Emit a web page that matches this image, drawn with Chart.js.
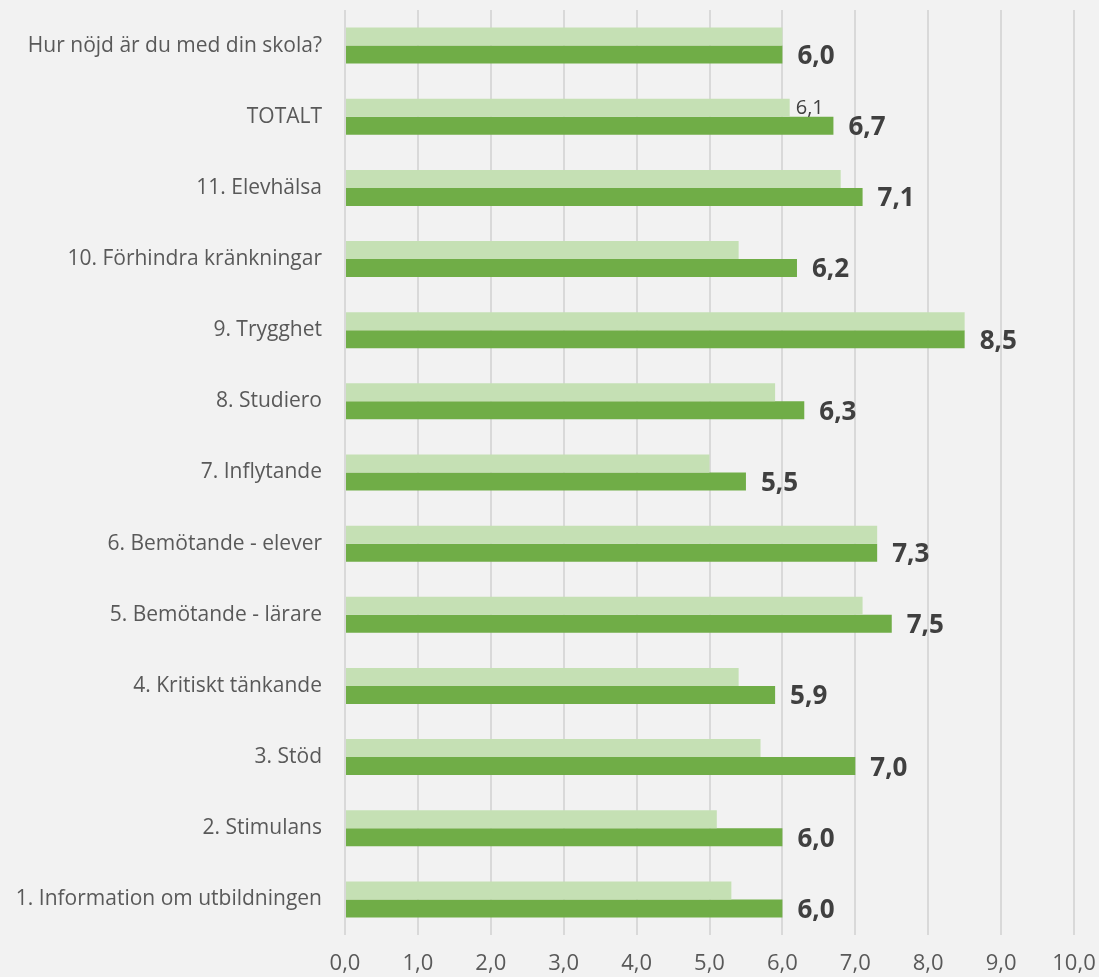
<!DOCTYPE html>
<html>
<head>
<meta charset="utf-8">
<script src="https://cdn.jsdelivr.net/npm/chart.js@4"></script>
<style>
  html, body { margin: 0; padding: 0; background: #f2f2f2; }
  #wrap { width: 1099px; height: 977px; }
</style>
</head>
<body>
<div id="wrap"><canvas id="myChart" width="1099" height="977"></canvas></div>
<script>
const categories = [
  "Hur nöjd är du med din skola?",
  "TOTALT",
  "11. Elevhälsa",
  "10. Förhindra kränkningar",
  "9. Trygghet",
  "8. Studiero",
  "7. Inflytande",
  "6. Bemötande - elever",
  "5. Bemötande - lärare",
  "4. Kritiskt tänkande",
  "3. Stöd",
  "2. Stimulans",
  "1. Information om utbildningen",
];
// light bars (earlier result) and dark bars (current result)
const previous = [6.0, 6.1, 6.8, 5.4, 8.5, 5.9, 5.0, 7.3, 7.1, 5.4, 5.7, 5.1, 5.3];
const current = [6.0, 6.7, 7.1, 6.2, 8.5, 6.3, 5.5, 7.3, 7.5, 5.9, 7.0, 6.0, 6.0];
// which light bars get a value label
const previousLabelled = ["TOTALT"];
const xTicks = [0, 1, 2, 3, 4, 5, 6, 7, 8, 9, 10];

const fmt = (v) => v.toFixed(1).replace(".", ",");
const FONT = "'Open Sans', 'Noto Sans', sans-serif";

const valueLabels = {
  id: "valueLabels",
  afterDatasetsDraw(chart) {
    const ctx = chart.ctx;
    ctx.save();
    ctx.textBaseline = "middle";
    ctx.textAlign = "left";
    ctx.fillStyle = "#404040";
    chart.getDatasetMeta(1).data.forEach((bar, i) => {
      ctx.font = "bold 26px " + FONT;
      ctx.fillText(fmt(current[i]), bar.x + 15, bar.y + 2);
    });
    chart.getDatasetMeta(0).data.forEach((bar, i) => {
      if (!previousLabelled.includes(categories[i])) return;
      ctx.font = "20px " + FONT;
      ctx.fillText(fmt(previous[i]), bar.x + 6, bar.y + 1);
    });
    ctx.restore();
  },
};

new Chart(document.getElementById("myChart"), {
  type: "bar",
  data: {
    labels: categories,
    datasets: [
      {
        label: "Föregående",
        data: previous,
        backgroundColor: "#c5e0b4",
        barPercentage: 1,
        categoryPercentage: 0.506,
      },
      {
        label: "Aktuell",
        data: current,
        backgroundColor: "#70ad47",
        barPercentage: 1,
        categoryPercentage: 0.506,
      },
    ],
  },
  options: {
    indexAxis: "y",
    responsive: false,
    animation: false,
    layout: { padding: { top: 10, right: 25, left: 0, bottom: 0 } },
    plugins: {
      legend: { display: false },
      tooltip: { enabled: false },
    },
    scales: {
      x: {
        min: 0,
        max: 10,
        afterBuildTicks: (s) => { s.ticks = xTicks.map((v) => ({ value: v })); },
        afterFit: (s) => {
          s.height = 42;
          s.paddingLeft = 0;
          s.paddingRight = 0;
        },
        grid: { color: "#d9d9d9", lineWidth: 2, drawTicks: false },
        border: { display: false },
        ticks: {
          padding: 16,
          color: "#595959",
          font: { family: FONT, size: 22 },
          callback: (v) => fmt(v),
        },
      },
      y: {
        afterFit: (s) => {
          s.width = 345;
          s.paddingTop = 0;
          s.paddingBottom = 0;
        },
        grid: { display: false, drawTicks: false },
        border: { display: false },
        ticks: {
          padding: 23,
          color: "#595959",
          font: { family: FONT, size: 21 },
        },
      },
    },
  },
  plugins: [valueLabels],
});
</script>
</body>
</html>
